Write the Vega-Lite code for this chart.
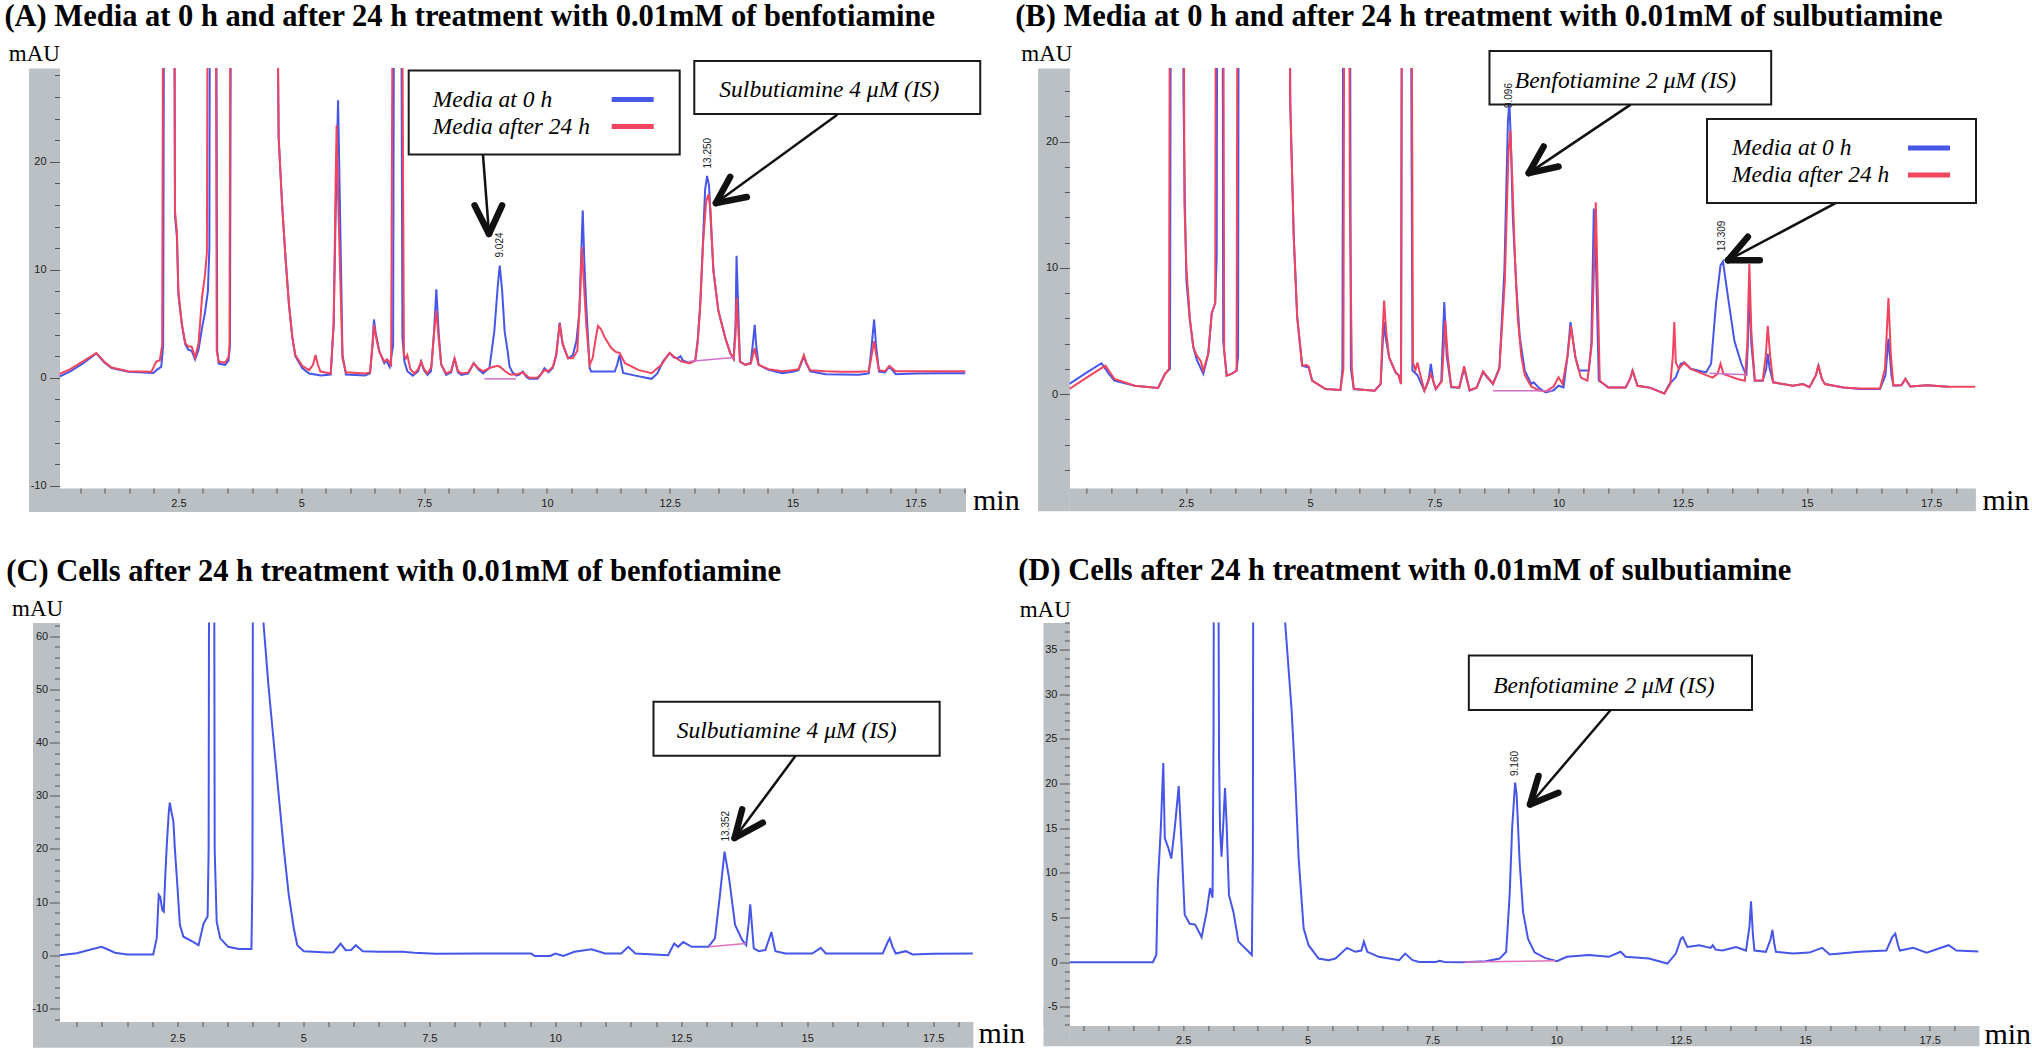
{
"$schema": "https://vega.github.io/schema/vega-lite/v6.json",
"background": "white",
"padding": {"left": 3.5, "top": 2, "right": 2, "bottom": 2},
"bounds": "flush",
"columns": 2,
"spacing": {"row": 134.5, "column": 95.9},
"resolve": {"scale": {"color": "independent"}, "legend": {"color": "independent"}},
"config": {
  "view": {"stroke": null},
  "font": "Liberation Sans",
  "title": {"font": "Liberation Serif", "fontSize": 30.5, "fontWeight": "bold", "color": "black", "anchor": "start", "frame": "group"},
  "axis": {"grid": false}
},
"datasets": {
"A0": [
{"s":"Media at 0 h","t":0.08,"v":0.1},{"s":"Media at 0 h","t":0.3,"v":0.6},{"s":"Media at 0 h","t":0.55,"v":1.3},{"s":"Media at 0 h","t":0.83,"v":2.25},{"s":"Media at 0 h","t":1.0,"v":1.4},{"s":"Media at 0 h","t":1.14,"v":0.9},{"s":"Media at 0 h","t":1.48,"v":0.55},{"s":"Media at 0 h","t":1.99,"v":0.45},{"s":"Media at 0 h","t":2.08,"v":0.8},{"s":"Media at 0 h","t":2.15,"v":1.0},{"s":"Media at 0 h","t":2.19,"v":3},{"s":"Media at 0 h","t":2.22,"v":60},{"s":"Media at 0 h","t":2.41,"v":60},{"s":"Media at 0 h","t":2.43,"v":15},{"s":"Media at 0 h","t":2.47,"v":13},{"s":"Media at 0 h","t":2.5,"v":7.7},{"s":"Media at 0 h","t":2.57,"v":4.9},{"s":"Media at 0 h","t":2.64,"v":3.1},{"s":"Media at 0 h","t":2.7,"v":2.6},{"s":"Media at 0 h","t":2.77,"v":2.5},{"s":"Media at 0 h","t":2.84,"v":1.7},{"s":"Media at 0 h","t":2.91,"v":2.6},{"s":"Media at 0 h","t":2.98,"v":4.6},{"s":"Media at 0 h","t":3.04,"v":6.0},{"s":"Media at 0 h","t":3.1,"v":8.0},{"s":"Media at 0 h","t":3.13,"v":12},{"s":"Media at 0 h","t":3.15,"v":60},{"s":"Media at 0 h","t":3.26,"v":60},{"s":"Media at 0 h","t":3.29,"v":2.5},{"s":"Media at 0 h","t":3.32,"v":1.3},{"s":"Media at 0 h","t":3.45,"v":1.2},{"s":"Media at 0 h","t":3.52,"v":1.6},{"s":"Media at 0 h","t":3.55,"v":3},{"s":"Media at 0 h","t":3.58,"v":60},{"s":"Media at 0 h","t":4.47,"v":60},{"s":"Media at 0 h","t":4.54,"v":22.3},{"s":"Media at 0 h","t":4.61,"v":16.1},{"s":"Media at 0 h","t":4.68,"v":11.1},{"s":"Media at 0 h","t":4.75,"v":6.8},{"s":"Media at 0 h","t":4.82,"v":3.7},{"s":"Media at 0 h","t":4.88,"v":2.0},{"s":"Media at 0 h","t":5.02,"v":0.9},{"s":"Media at 0 h","t":5.16,"v":0.4},{"s":"Media at 0 h","t":5.4,"v":0.2},{"s":"Media at 0 h","t":5.6,"v":0.3},{"s":"Media at 0 h","t":5.66,"v":5},{"s":"Media at 0 h","t":5.72,"v":20},{"s":"Media at 0 h","t":5.75,"v":25.7},{"s":"Media at 0 h","t":5.78,"v":18},{"s":"Media at 0 h","t":5.84,"v":2.1},{"s":"Media at 0 h","t":5.91,"v":0.3},{"s":"Media at 0 h","t":6.3,"v":0.2},{"s":"Media at 0 h","t":6.4,"v":0.4},{"s":"Media at 0 h","t":6.45,"v":3},{"s":"Media at 0 h","t":6.48,"v":5.4},{"s":"Media at 0 h","t":6.52,"v":4},{"s":"Media at 0 h","t":6.59,"v":2.45},{"s":"Media at 0 h","t":6.69,"v":1.35},{"s":"Media at 0 h","t":6.73,"v":1.6},{"s":"Media at 0 h","t":6.8,"v":1.0},{"s":"Media at 0 h","t":6.87,"v":3},{"s":"Media at 0 h","t":6.9,"v":60},{"s":"Media at 0 h","t":7.02,"v":60},{"s":"Media at 0 h","t":7.06,"v":3.7},{"s":"Media at 0 h","t":7.1,"v":1.5},{"s":"Media at 0 h","t":7.16,"v":0.6},{"s":"Media at 0 h","t":7.27,"v":0.2},{"s":"Media at 0 h","t":7.38,"v":0.6},{"s":"Media at 0 h","t":7.44,"v":1.5},{"s":"Media at 0 h","t":7.5,"v":0.7},{"s":"Media at 0 h","t":7.57,"v":0.27},{"s":"Media at 0 h","t":7.64,"v":0.6},{"s":"Media at 0 h","t":7.7,"v":4},{"s":"Media at 0 h","t":7.75,"v":8.2},{"s":"Media at 0 h","t":7.8,"v":4},{"s":"Media at 0 h","t":7.85,"v":1.2},{"s":"Media at 0 h","t":7.95,"v":0.27},{"s":"Media at 0 h","t":8.05,"v":0.5},{"s":"Media at 0 h","t":8.12,"v":1.8},{"s":"Media at 0 h","t":8.19,"v":0.5},{"s":"Media at 0 h","t":8.26,"v":0.27},{"s":"Media at 0 h","t":8.4,"v":0.4},{"s":"Media at 0 h","t":8.51,"v":1.35},{"s":"Media at 0 h","t":8.6,"v":0.8},{"s":"Media at 0 h","t":8.7,"v":0.4},{"s":"Media at 0 h","t":8.83,"v":0.9},{"s":"Media at 0 h","t":8.93,"v":4.3},{"s":"Media at 0 h","t":9.0,"v":8.5},{"s":"Media at 0 h","t":9.04,"v":10.4},{"s":"Media at 0 h","t":9.09,"v":8},{"s":"Media at 0 h","t":9.14,"v":4.3},{"s":"Media at 0 h","t":9.2,"v":2.5},{"s":"Media at 0 h","t":9.24,"v":1.04},{"s":"Media at 0 h","t":9.3,"v":0.5},{"s":"Media at 0 h","t":9.38,"v":0.2},{"s":"Media at 0 h","t":9.44,"v":0.3},{"s":"Media at 0 h","t":9.51,"v":0.58},{"s":"Media at 0 h","t":9.58,"v":0.1},{"s":"Media at 0 h","t":9.64,"v":-0.1},{"s":"Media at 0 h","t":9.81,"v":-0.1},{"s":"Media at 0 h","t":9.88,"v":0.3},{"s":"Media at 0 h","t":9.95,"v":0.89},{"s":"Media at 0 h","t":10.03,"v":0.5},{"s":"Media at 0 h","t":10.12,"v":0.9},{"s":"Media at 0 h","t":10.19,"v":2.1},{"s":"Media at 0 h","t":10.26,"v":5.1},{"s":"Media at 0 h","t":10.32,"v":3.1},{"s":"Media at 0 h","t":10.43,"v":1.8},{"s":"Media at 0 h","t":10.53,"v":2.1},{"s":"Media at 0 h","t":10.6,"v":3.4},{"s":"Media at 0 h","t":10.66,"v":6},{"s":"Media at 0 h","t":10.71,"v":13},{"s":"Media at 0 h","t":10.73,"v":15.5},{"s":"Media at 0 h","t":10.76,"v":11},{"s":"Media at 0 h","t":10.8,"v":6.8},{"s":"Media at 0 h","t":10.87,"v":0.9},{"s":"Media at 0 h","t":10.9,"v":0.58},{"s":"Media at 0 h","t":11.38,"v":0.58},{"s":"Media at 0 h","t":11.43,"v":1.2},{"s":"Media at 0 h","t":11.48,"v":2.1},{"s":"Media at 0 h","t":11.55,"v":0.45},{"s":"Media at 0 h","t":11.8,"v":0.2},{"s":"Media at 0 h","t":12.13,"v":-0.1},{"s":"Media at 0 h","t":12.25,"v":0.4},{"s":"Media at 0 h","t":12.36,"v":1.5},{"s":"Media at 0 h","t":12.5,"v":2.3},{"s":"Media at 0 h","t":12.58,"v":1.9},{"s":"Media at 0 h","t":12.66,"v":1.8},{"s":"Media at 0 h","t":12.72,"v":2.0},{"s":"Media at 0 h","t":12.77,"v":1.6},{"s":"Media at 0 h","t":12.9,"v":1.35},{"s":"Media at 0 h","t":13.02,"v":1.6},{"s":"Media at 0 h","t":13.07,"v":3.5},{"s":"Media at 0 h","t":13.12,"v":6.8},{"s":"Media at 0 h","t":13.18,"v":13},{"s":"Media at 0 h","t":13.22,"v":17.4},{"s":"Media at 0 h","t":13.26,"v":18.7},{"s":"Media at 0 h","t":13.3,"v":17.8},{"s":"Media at 0 h","t":13.34,"v":14},{"s":"Media at 0 h","t":13.39,"v":9.9},{"s":"Media at 0 h","t":13.49,"v":6.2},{"s":"Media at 0 h","t":13.63,"v":3.7},{"s":"Media at 0 h","t":13.73,"v":2.3},{"s":"Media at 0 h","t":13.8,"v":1.75},{"s":"Media at 0 h","t":13.84,"v":5},{"s":"Media at 0 h","t":13.86,"v":11.3},{"s":"Media at 0 h","t":13.89,"v":7},{"s":"Media at 0 h","t":13.93,"v":1.5},{"s":"Media at 0 h","t":14.04,"v":1.2},{"s":"Media at 0 h","t":14.15,"v":1.4},{"s":"Media at 0 h","t":14.2,"v":3.5},{"s":"Media at 0 h","t":14.23,"v":4.9},{"s":"Media at 0 h","t":14.26,"v":3},{"s":"Media at 0 h","t":14.31,"v":1.2},{"s":"Media at 0 h","t":14.51,"v":0.73},{"s":"Media at 0 h","t":14.79,"v":0.42},{"s":"Media at 0 h","t":15.0,"v":0.55},{"s":"Media at 0 h","t":15.12,"v":0.7},{"s":"Media at 0 h","t":15.19,"v":1.5},{"s":"Media at 0 h","t":15.23,"v":2.0},{"s":"Media at 0 h","t":15.28,"v":1.3},{"s":"Media at 0 h","t":15.36,"v":0.6},{"s":"Media at 0 h","t":15.67,"v":0.33},{"s":"Media at 0 h","t":16.0,"v":0.3},{"s":"Media at 0 h","t":16.35,"v":0.27},{"s":"Media at 0 h","t":16.55,"v":0.4},{"s":"Media at 0 h","t":16.6,"v":2.5},{"s":"Media at 0 h","t":16.66,"v":5.4},{"s":"Media at 0 h","t":16.7,"v":3.0},{"s":"Media at 0 h","t":16.76,"v":0.58},{"s":"Media at 0 h","t":16.88,"v":0.5},{"s":"Media at 0 h","t":16.97,"v":1.04},{"s":"Media at 0 h","t":17.1,"v":0.33},{"s":"Media at 0 h","t":17.5,"v":0.4},{"s":"Media at 0 h","t":18.0,"v":0.42},{"s":"Media at 0 h","t":18.52,"v":0.42}
],
"A24": [
{"s":"Media after 24 h","t":0.08,"v":0.35},{"s":"Media after 24 h","t":0.3,"v":0.8},{"s":"Media after 24 h","t":0.55,"v":1.5},{"s":"Media after 24 h","t":0.83,"v":2.3},{"s":"Media after 24 h","t":1.0,"v":1.45},{"s":"Media after 24 h","t":1.14,"v":0.95},{"s":"Media after 24 h","t":1.48,"v":0.6},{"s":"Media after 24 h","t":1.95,"v":0.55},{"s":"Media after 24 h","t":2.05,"v":1.5},{"s":"Media after 24 h","t":2.12,"v":1.6},{"s":"Media after 24 h","t":2.17,"v":3},{"s":"Media after 24 h","t":2.2,"v":60},{"s":"Media after 24 h","t":2.4,"v":60},{"s":"Media after 24 h","t":2.43,"v":15.5},{"s":"Media after 24 h","t":2.47,"v":13.5},{"s":"Media after 24 h","t":2.5,"v":8},{"s":"Media after 24 h","t":2.57,"v":5},{"s":"Media after 24 h","t":2.64,"v":3.2},{"s":"Media after 24 h","t":2.7,"v":2.9},{"s":"Media after 24 h","t":2.77,"v":2.9},{"s":"Media after 24 h","t":2.84,"v":1.9},{"s":"Media after 24 h","t":2.91,"v":3.2},{"s":"Media after 24 h","t":2.98,"v":7.4},{"s":"Media after 24 h","t":3.04,"v":9.5},{"s":"Media after 24 h","t":3.08,"v":11.6},{"s":"Media after 24 h","t":3.11,"v":60},{"s":"Media after 24 h","t":3.25,"v":60},{"s":"Media after 24 h","t":3.28,"v":2.5},{"s":"Media after 24 h","t":3.32,"v":1.5},{"s":"Media after 24 h","t":3.45,"v":1.4},{"s":"Media after 24 h","t":3.52,"v":1.9},{"s":"Media after 24 h","t":3.54,"v":3},{"s":"Media after 24 h","t":3.57,"v":60},{"s":"Media after 24 h","t":4.47,"v":60},{"s":"Media after 24 h","t":4.54,"v":22.3},{"s":"Media after 24 h","t":4.61,"v":16.1},{"s":"Media after 24 h","t":4.68,"v":11.1},{"s":"Media after 24 h","t":4.75,"v":6.8},{"s":"Media after 24 h","t":4.82,"v":3.7},{"s":"Media after 24 h","t":4.88,"v":2.1},{"s":"Media after 24 h","t":5.02,"v":1.1},{"s":"Media after 24 h","t":5.16,"v":0.7},{"s":"Media after 24 h","t":5.24,"v":1.2},{"s":"Media after 24 h","t":5.29,"v":2.1},{"s":"Media after 24 h","t":5.34,"v":1.2},{"s":"Media after 24 h","t":5.39,"v":0.58},{"s":"Media after 24 h","t":5.6,"v":0.4},{"s":"Media after 24 h","t":5.66,"v":5},{"s":"Media after 24 h","t":5.7,"v":18},{"s":"Media after 24 h","t":5.72,"v":23.4},{"s":"Media after 24 h","t":5.76,"v":15},{"s":"Media after 24 h","t":5.84,"v":1.8},{"s":"Media after 24 h","t":5.91,"v":0.5},{"s":"Media after 24 h","t":6.3,"v":0.4},{"s":"Media after 24 h","t":6.4,"v":0.5},{"s":"Media after 24 h","t":6.45,"v":3},{"s":"Media after 24 h","t":6.48,"v":4.9},{"s":"Media after 24 h","t":6.52,"v":3.8},{"s":"Media after 24 h","t":6.59,"v":2.4},{"s":"Media after 24 h","t":6.69,"v":1.5},{"s":"Media after 24 h","t":6.75,"v":1.7},{"s":"Media after 24 h","t":6.83,"v":1.2},{"s":"Media after 24 h","t":6.88,"v":60},{"s":"Media after 24 h","t":7.03,"v":60},{"s":"Media after 24 h","t":7.09,"v":2.1},{"s":"Media after 24 h","t":7.13,"v":1.8},{"s":"Media after 24 h","t":7.16,"v":2.1},{"s":"Media after 24 h","t":7.22,"v":0.8},{"s":"Media after 24 h","t":7.3,"v":0.4},{"s":"Media after 24 h","t":7.38,"v":0.8},{"s":"Media after 24 h","t":7.44,"v":1.5},{"s":"Media after 24 h","t":7.5,"v":0.8},{"s":"Media after 24 h","t":7.57,"v":0.4},{"s":"Media after 24 h","t":7.65,"v":1.0},{"s":"Media after 24 h","t":7.71,"v":4.5},{"s":"Media after 24 h","t":7.75,"v":6.2},{"s":"Media after 24 h","t":7.8,"v":3.5},{"s":"Media after 24 h","t":7.85,"v":1.2},{"s":"Media after 24 h","t":7.95,"v":0.4},{"s":"Media after 24 h","t":8.05,"v":0.6},{"s":"Media after 24 h","t":8.12,"v":1.8},{"s":"Media after 24 h","t":8.19,"v":0.6},{"s":"Media after 24 h","t":8.26,"v":0.4},{"s":"Media after 24 h","t":8.4,"v":0.5},{"s":"Media after 24 h","t":8.51,"v":1.35},{"s":"Media after 24 h","t":8.6,"v":0.9},{"s":"Media after 24 h","t":8.7,"v":0.6},{"s":"Media after 24 h","t":8.83,"v":0.9},{"s":"Media after 24 h","t":8.9,"v":1.0},{"s":"Media after 24 h","t":9.0,"v":1.1},{"s":"Media after 24 h","t":9.05,"v":1.0},{"s":"Media after 24 h","t":9.15,"v":0.6},{"s":"Media after 24 h","t":9.25,"v":0.3},{"s":"Media after 24 h","t":9.38,"v":0.3},{"s":"Media after 24 h","t":9.51,"v":0.5},{"s":"Media after 24 h","t":9.64,"v":0.0},{"s":"Media after 24 h","t":9.81,"v":0.0},{"s":"Media after 24 h","t":9.95,"v":0.7},{"s":"Media after 24 h","t":10.03,"v":0.6},{"s":"Media after 24 h","t":10.12,"v":1.0},{"s":"Media after 24 h","t":10.19,"v":2.1},{"s":"Media after 24 h","t":10.26,"v":5.0},{"s":"Media after 24 h","t":10.32,"v":3.2},{"s":"Media after 24 h","t":10.43,"v":1.8},{"s":"Media after 24 h","t":10.53,"v":1.8},{"s":"Media after 24 h","t":10.62,"v":2.5},{"s":"Media after 24 h","t":10.68,"v":8},{"s":"Media after 24 h","t":10.71,"v":12.1},{"s":"Media after 24 h","t":10.75,"v":9},{"s":"Media after 24 h","t":10.8,"v":5},{"s":"Media after 24 h","t":10.87,"v":1.2},{"s":"Media after 24 h","t":10.93,"v":1.8},{"s":"Media after 24 h","t":11.0,"v":3.8},{"s":"Media after 24 h","t":11.04,"v":4.8},{"s":"Media after 24 h","t":11.1,"v":4.5},{"s":"Media after 24 h","t":11.18,"v":3.7},{"s":"Media after 24 h","t":11.31,"v":2.75},{"s":"Media after 24 h","t":11.4,"v":2.4},{"s":"Media after 24 h","t":11.48,"v":2.3},{"s":"Media after 24 h","t":11.59,"v":1.35},{"s":"Media after 24 h","t":11.86,"v":0.73},{"s":"Media after 24 h","t":12.13,"v":0.42},{"s":"Media after 24 h","t":12.33,"v":1.2},{"s":"Media after 24 h","t":12.45,"v":2.0},{"s":"Media after 24 h","t":12.5,"v":2.3},{"s":"Media after 24 h","t":12.6,"v":1.9},{"s":"Media after 24 h","t":12.74,"v":1.5},{"s":"Media after 24 h","t":12.9,"v":1.35},{"s":"Media after 24 h","t":13.02,"v":1.6},{"s":"Media after 24 h","t":13.07,"v":3.3},{"s":"Media after 24 h","t":13.12,"v":6.5},{"s":"Media after 24 h","t":13.18,"v":12.5},{"s":"Media after 24 h","t":13.24,"v":16.3},{"s":"Media after 24 h","t":13.29,"v":17.0},{"s":"Media after 24 h","t":13.33,"v":15.5},{"s":"Media after 24 h","t":13.39,"v":9.9},{"s":"Media after 24 h","t":13.49,"v":6.2},{"s":"Media after 24 h","t":13.63,"v":3.7},{"s":"Media after 24 h","t":13.73,"v":2.3},{"s":"Media after 24 h","t":13.8,"v":1.75},{"s":"Media after 24 h","t":13.84,"v":4},{"s":"Media after 24 h","t":13.86,"v":7.4},{"s":"Media after 24 h","t":13.89,"v":5},{"s":"Media after 24 h","t":13.93,"v":1.5},{"s":"Media after 24 h","t":14.04,"v":1.2},{"s":"Media after 24 h","t":14.15,"v":1.3},{"s":"Media after 24 h","t":14.2,"v":2.2},{"s":"Media after 24 h","t":14.23,"v":2.75},{"s":"Media after 24 h","t":14.26,"v":2},{"s":"Media after 24 h","t":14.31,"v":1.2},{"s":"Media after 24 h","t":14.51,"v":0.8},{"s":"Media after 24 h","t":14.79,"v":0.6},{"s":"Media after 24 h","t":15.0,"v":0.7},{"s":"Media after 24 h","t":15.12,"v":0.8},{"s":"Media after 24 h","t":15.19,"v":1.6},{"s":"Media after 24 h","t":15.23,"v":2.1},{"s":"Media after 24 h","t":15.28,"v":1.4},{"s":"Media after 24 h","t":15.36,"v":0.7},{"s":"Media after 24 h","t":15.67,"v":0.6},{"s":"Media after 24 h","t":16.0,"v":0.55},{"s":"Media after 24 h","t":16.35,"v":0.55},{"s":"Media after 24 h","t":16.55,"v":0.6},{"s":"Media after 24 h","t":16.6,"v":1.8},{"s":"Media after 24 h","t":16.66,"v":3.4},{"s":"Media after 24 h","t":16.7,"v":2.2},{"s":"Media after 24 h","t":16.76,"v":0.7},{"s":"Media after 24 h","t":16.88,"v":0.6},{"s":"Media after 24 h","t":16.97,"v":1.1},{"s":"Media after 24 h","t":17.1,"v":0.6},{"s":"Media after 24 h","t":17.5,"v":0.6},{"s":"Media after 24 h","t":18.0,"v":0.6},{"s":"Media after 24 h","t":18.52,"v":0.6}
],
"B0": [
{"s":"Media at 0 h","t":0.155,"v":0.8},{"s":"Media at 0 h","t":0.5,"v":1.7},{"s":"Media at 0 h","t":0.8,"v":2.44},{"s":"Media at 0 h","t":0.95,"v":1.6},{"s":"Media at 0 h","t":1.06,"v":1.06},{"s":"Media at 0 h","t":1.47,"v":0.66},{"s":"Media at 0 h","t":1.94,"v":0.48},{"s":"Media at 0 h","t":2.08,"v":1.6},{"s":"Media at 0 h","t":2.18,"v":2.0},{"s":"Media at 0 h","t":2.21,"v":60},{"s":"Media at 0 h","t":2.43,"v":60},{"s":"Media at 0 h","t":2.45,"v":23.9},{"s":"Media at 0 h","t":2.48,"v":15},{"s":"Media at 0 h","t":2.51,"v":9.0},{"s":"Media at 0 h","t":2.58,"v":5.8},{"s":"Media at 0 h","t":2.65,"v":3.7},{"s":"Media at 0 h","t":2.72,"v":2.7},{"s":"Media at 0 h","t":2.85,"v":1.6},{"s":"Media at 0 h","t":2.95,"v":3.18},{"s":"Media at 0 h","t":3.02,"v":6.4},{"s":"Media at 0 h","t":3.09,"v":7.2},{"s":"Media at 0 h","t":3.12,"v":10.9},{"s":"Media at 0 h","t":3.14,"v":60},{"s":"Media at 0 h","t":3.23,"v":60},{"s":"Media at 0 h","t":3.25,"v":4.2},{"s":"Media at 0 h","t":3.32,"v":1.46},{"s":"Media at 0 h","t":3.42,"v":1.6},{"s":"Media at 0 h","t":3.52,"v":1.86},{"s":"Media at 0 h","t":3.55,"v":3},{"s":"Media at 0 h","t":3.57,"v":60},{"s":"Media at 0 h","t":4.56,"v":60},{"s":"Media at 0 h","t":4.6,"v":23.1},{"s":"Media at 0 h","t":4.67,"v":12.5},{"s":"Media at 0 h","t":4.74,"v":6.1},{"s":"Media at 0 h","t":4.84,"v":2.25},{"s":"Media at 0 h","t":4.97,"v":2.1},{"s":"Media at 0 h","t":5.04,"v":1.06},{"s":"Media at 0 h","t":5.31,"v":0.4},{"s":"Media at 0 h","t":5.61,"v":0.32},{"s":"Media at 0 h","t":5.65,"v":2},{"s":"Media at 0 h","t":5.68,"v":60},{"s":"Media at 0 h","t":5.79,"v":60},{"s":"Media at 0 h","t":5.82,"v":2},{"s":"Media at 0 h","t":5.88,"v":0.4},{"s":"Media at 0 h","t":6.3,"v":0.27},{"s":"Media at 0 h","t":6.42,"v":0.8},{"s":"Media at 0 h","t":6.46,"v":4},{"s":"Media at 0 h","t":6.49,"v":5.7},{"s":"Media at 0 h","t":6.52,"v":4.5},{"s":"Media at 0 h","t":6.59,"v":2.9},{"s":"Media at 0 h","t":6.72,"v":1.72},{"s":"Media at 0 h","t":6.78,"v":1.5},{"s":"Media at 0 h","t":6.83,"v":0.8},{"s":"Media at 0 h","t":6.86,"v":60},{"s":"Media at 0 h","t":7.0,"v":60},{"s":"Media at 0 h","t":7.06,"v":1.86},{"s":"Media at 0 h","t":7.16,"v":1.5},{"s":"Media at 0 h","t":7.3,"v":0.27},{"s":"Media at 0 h","t":7.38,"v":1.0},{"s":"Media at 0 h","t":7.43,"v":2.4},{"s":"Media at 0 h","t":7.48,"v":1.0},{"s":"Media at 0 h","t":7.53,"v":0.4},{"s":"Media at 0 h","t":7.64,"v":1.0},{"s":"Media at 0 h","t":7.7,"v":7.3},{"s":"Media at 0 h","t":7.75,"v":3},{"s":"Media at 0 h","t":7.84,"v":0.53},{"s":"Media at 0 h","t":8.0,"v":0.5},{"s":"Media at 0 h","t":8.1,"v":2.0},{"s":"Media at 0 h","t":8.21,"v":0.27},{"s":"Media at 0 h","t":8.35,"v":0.5},{"s":"Media at 0 h","t":8.48,"v":1.72},{"s":"Media at 0 h","t":8.68,"v":0.8},{"s":"Media at 0 h","t":8.81,"v":2.1},{"s":"Media at 0 h","t":8.91,"v":9.8},{"s":"Media at 0 h","t":8.98,"v":21.5},{"s":"Media at 0 h","t":9.01,"v":23.3},{"s":"Media at 0 h","t":9.04,"v":20},{"s":"Media at 0 h","t":9.08,"v":14},{"s":"Media at 0 h","t":9.15,"v":8.5},{"s":"Media at 0 h","t":9.22,"v":4.5},{"s":"Media at 0 h","t":9.32,"v":1.86},{"s":"Media at 0 h","t":9.45,"v":0.8},{"s":"Media at 0 h","t":9.5,"v":0.93},{"s":"Media at 0 h","t":9.6,"v":0.5},{"s":"Media at 0 h","t":9.74,"v":0.13},{"s":"Media at 0 h","t":9.9,"v":0.3},{"s":"Media at 0 h","t":10.0,"v":0.66},{"s":"Media at 0 h","t":10.1,"v":0.53},{"s":"Media at 0 h","t":10.18,"v":3},{"s":"Media at 0 h","t":10.24,"v":5.7},{"s":"Media at 0 h","t":10.3,"v":4},{"s":"Media at 0 h","t":10.34,"v":2.9},{"s":"Media at 0 h","t":10.41,"v":1.86},{"s":"Media at 0 h","t":10.61,"v":1.86},{"s":"Media at 0 h","t":10.66,"v":4},{"s":"Media at 0 h","t":10.71,"v":14.7},{"s":"Media at 0 h","t":10.75,"v":11},{"s":"Media at 0 h","t":10.81,"v":1.06},{"s":"Media at 0 h","t":10.91,"v":0.8},{"s":"Media at 0 h","t":11.0,"v":0.53},{"s":"Media at 0 h","t":11.35,"v":0.53},{"s":"Media at 0 h","t":11.44,"v":1.2},{"s":"Media at 0 h","t":11.49,"v":1.86},{"s":"Media at 0 h","t":11.59,"v":0.66},{"s":"Media at 0 h","t":11.82,"v":0.53},{"s":"Media at 0 h","t":12.13,"v":0.05},{"s":"Media at 0 h","t":12.23,"v":0.8},{"s":"Media at 0 h","t":12.36,"v":1.33},{"s":"Media at 0 h","t":12.46,"v":2.4},{"s":"Media at 0 h","t":12.53,"v":2.5},{"s":"Media at 0 h","t":12.66,"v":2.0},{"s":"Media at 0 h","t":12.97,"v":1.72},{"s":"Media at 0 h","t":13.07,"v":2.4},{"s":"Media at 0 h","t":13.17,"v":7.2},{"s":"Media at 0 h","t":13.26,"v":10.2},{"s":"Media at 0 h","t":13.31,"v":10.5},{"s":"Media at 0 h","t":13.41,"v":7.7},{"s":"Media at 0 h","t":13.54,"v":4.2},{"s":"Media at 0 h","t":13.68,"v":2.4},{"s":"Media at 0 h","t":13.78,"v":1.46},{"s":"Media at 0 h","t":13.81,"v":4},{"s":"Media at 0 h","t":13.84,"v":8.2},{"s":"Media at 0 h","t":13.88,"v":4},{"s":"Media at 0 h","t":13.95,"v":1.06},{"s":"Media at 0 h","t":14.11,"v":1.06},{"s":"Media at 0 h","t":14.18,"v":2},{"s":"Media at 0 h","t":14.21,"v":3.2},{"s":"Media at 0 h","t":14.25,"v":2},{"s":"Media at 0 h","t":14.32,"v":0.93},{"s":"Media at 0 h","t":14.72,"v":0.66},{"s":"Media at 0 h","t":14.92,"v":0.8},{"s":"Media at 0 h","t":15.05,"v":0.55},{"s":"Media at 0 h","t":15.18,"v":1.5},{"s":"Media at 0 h","t":15.23,"v":2.25},{"s":"Media at 0 h","t":15.3,"v":1.2},{"s":"Media at 0 h","t":15.36,"v":0.8},{"s":"Media at 0 h","t":15.73,"v":0.53},{"s":"Media at 0 h","t":16.07,"v":0.4},{"s":"Media at 0 h","t":16.47,"v":0.4},{"s":"Media at 0 h","t":16.58,"v":1.5},{"s":"Media at 0 h","t":16.64,"v":4.4},{"s":"Media at 0 h","t":16.7,"v":1.5},{"s":"Media at 0 h","t":16.74,"v":0.66},{"s":"Media at 0 h","t":16.9,"v":0.7},{"s":"Media at 0 h","t":16.98,"v":1.2},{"s":"Media at 0 h","t":17.08,"v":0.6},{"s":"Media at 0 h","t":17.42,"v":0.7},{"s":"Media at 0 h","t":17.85,"v":0.58}
],
"B24": [
{"s":"Media after 24 h","t":0.155,"v":0.4},{"s":"Media after 24 h","t":0.5,"v":1.3},{"s":"Media after 24 h","t":0.88,"v":2.25},{"s":"Media after 24 h","t":1.06,"v":1.2},{"s":"Media after 24 h","t":1.47,"v":0.66},{"s":"Media after 24 h","t":1.94,"v":0.48},{"s":"Media after 24 h","t":2.08,"v":1.6},{"s":"Media after 24 h","t":2.16,"v":2.0},{"s":"Media after 24 h","t":2.19,"v":60},{"s":"Media after 24 h","t":2.44,"v":60},{"s":"Media after 24 h","t":2.47,"v":15.1},{"s":"Media after 24 h","t":2.51,"v":10},{"s":"Media after 24 h","t":2.58,"v":6},{"s":"Media after 24 h","t":2.65,"v":3.7},{"s":"Media after 24 h","t":2.72,"v":3.05},{"s":"Media after 24 h","t":2.8,"v":2.6},{"s":"Media after 24 h","t":2.85,"v":1.86},{"s":"Media after 24 h","t":2.95,"v":3.2},{"s":"Media after 24 h","t":3.02,"v":6.4},{"s":"Media after 24 h","t":3.09,"v":7.2},{"s":"Media after 24 h","t":3.11,"v":60},{"s":"Media after 24 h","t":3.24,"v":60},{"s":"Media after 24 h","t":3.27,"v":3.5},{"s":"Media after 24 h","t":3.32,"v":1.46},{"s":"Media after 24 h","t":3.42,"v":1.6},{"s":"Media after 24 h","t":3.52,"v":1.86},{"s":"Media after 24 h","t":3.55,"v":60},{"s":"Media after 24 h","t":4.56,"v":60},{"s":"Media after 24 h","t":4.6,"v":23.1},{"s":"Media after 24 h","t":4.67,"v":12.5},{"s":"Media after 24 h","t":4.74,"v":6.1},{"s":"Media after 24 h","t":4.84,"v":2.25},{"s":"Media after 24 h","t":4.93,"v":2.3},{"s":"Media after 24 h","t":4.97,"v":2.2},{"s":"Media after 24 h","t":5.04,"v":1.06},{"s":"Media after 24 h","t":5.31,"v":0.4},{"s":"Media after 24 h","t":5.61,"v":0.32},{"s":"Media after 24 h","t":5.67,"v":2},{"s":"Media after 24 h","t":5.7,"v":60},{"s":"Media after 24 h","t":5.77,"v":60},{"s":"Media after 24 h","t":5.8,"v":15},{"s":"Media after 24 h","t":5.84,"v":2},{"s":"Media after 24 h","t":5.88,"v":0.4},{"s":"Media after 24 h","t":6.3,"v":0.27},{"s":"Media after 24 h","t":6.42,"v":0.8},{"s":"Media after 24 h","t":6.46,"v":5},{"s":"Media after 24 h","t":6.49,"v":7.4},{"s":"Media after 24 h","t":6.53,"v":5},{"s":"Media after 24 h","t":6.59,"v":2.9},{"s":"Media after 24 h","t":6.72,"v":1.72},{"s":"Media after 24 h","t":6.78,"v":1.5},{"s":"Media after 24 h","t":6.83,"v":0.8},{"s":"Media after 24 h","t":6.86,"v":60},{"s":"Media after 24 h","t":7.02,"v":60},{"s":"Media after 24 h","t":7.07,"v":2.5},{"s":"Media after 24 h","t":7.12,"v":1.9},{"s":"Media after 24 h","t":7.16,"v":2.5},{"s":"Media after 24 h","t":7.22,"v":1.5},{"s":"Media after 24 h","t":7.3,"v":0.27},{"s":"Media after 24 h","t":7.43,"v":1.6},{"s":"Media after 24 h","t":7.53,"v":0.4},{"s":"Media after 24 h","t":7.65,"v":1.0},{"s":"Media after 24 h","t":7.72,"v":5.8},{"s":"Media after 24 h","t":7.77,"v":3},{"s":"Media after 24 h","t":7.84,"v":0.6},{"s":"Media after 24 h","t":8.0,"v":0.5},{"s":"Media after 24 h","t":8.1,"v":2.2},{"s":"Media after 24 h","t":8.21,"v":0.3},{"s":"Media after 24 h","t":8.35,"v":0.5},{"s":"Media after 24 h","t":8.48,"v":1.8},{"s":"Media after 24 h","t":8.68,"v":0.8},{"s":"Media after 24 h","t":8.81,"v":2.0},{"s":"Media after 24 h","t":8.92,"v":9},{"s":"Media after 24 h","t":8.99,"v":19},{"s":"Media after 24 h","t":9.03,"v":20.9},{"s":"Media after 24 h","t":9.07,"v":17},{"s":"Media after 24 h","t":9.12,"v":11},{"s":"Media after 24 h","t":9.18,"v":6},{"s":"Media after 24 h","t":9.25,"v":3},{"s":"Media after 24 h","t":9.32,"v":1.5},{"s":"Media after 24 h","t":9.45,"v":0.6},{"s":"Media after 24 h","t":9.6,"v":0.3},{"s":"Media after 24 h","t":9.74,"v":0.2},{"s":"Media after 24 h","t":9.9,"v":0.6},{"s":"Media after 24 h","t":10.0,"v":1.33},{"s":"Media after 24 h","t":10.08,"v":0.8},{"s":"Media after 24 h","t":10.18,"v":3},{"s":"Media after 24 h","t":10.25,"v":5.4},{"s":"Media after 24 h","t":10.3,"v":4},{"s":"Media after 24 h","t":10.34,"v":2.9},{"s":"Media after 24 h","t":10.45,"v":1.3},{"s":"Media after 24 h","t":10.58,"v":1.06},{"s":"Media after 24 h","t":10.67,"v":4},{"s":"Media after 24 h","t":10.75,"v":15.2},{"s":"Media after 24 h","t":10.79,"v":8},{"s":"Media after 24 h","t":10.83,"v":1.06},{"s":"Media after 24 h","t":10.91,"v":0.8},{"s":"Media after 24 h","t":11.0,"v":0.53},{"s":"Media after 24 h","t":11.35,"v":0.53},{"s":"Media after 24 h","t":11.44,"v":1.2},{"s":"Media after 24 h","t":11.49,"v":1.86},{"s":"Media after 24 h","t":11.59,"v":0.66},{"s":"Media after 24 h","t":11.82,"v":0.53},{"s":"Media after 24 h","t":12.13,"v":0.05},{"s":"Media after 24 h","t":12.25,"v":0.8},{"s":"Media after 24 h","t":12.3,"v":3},{"s":"Media after 24 h","t":12.33,"v":5.7},{"s":"Media after 24 h","t":12.36,"v":2.5},{"s":"Media after 24 h","t":12.42,"v":2.0},{"s":"Media after 24 h","t":12.53,"v":2.5},{"s":"Media after 24 h","t":12.66,"v":2.0},{"s":"Media after 24 h","t":12.97,"v":1.5},{"s":"Media after 24 h","t":13.1,"v":1.3},{"s":"Media after 24 h","t":13.2,"v":1.6},{"s":"Media after 24 h","t":13.26,"v":2.4},{"s":"Media after 24 h","t":13.32,"v":1.6},{"s":"Media after 24 h","t":13.45,"v":1.4},{"s":"Media after 24 h","t":13.6,"v":1.2},{"s":"Media after 24 h","t":13.75,"v":1.06},{"s":"Media after 24 h","t":13.8,"v":4},{"s":"Media after 24 h","t":13.84,"v":10.3},{"s":"Media after 24 h","t":13.88,"v":5},{"s":"Media after 24 h","t":13.95,"v":1.06},{"s":"Media after 24 h","t":14.11,"v":1.1},{"s":"Media after 24 h","t":14.17,"v":3},{"s":"Media after 24 h","t":14.21,"v":5.4},{"s":"Media after 24 h","t":14.26,"v":3},{"s":"Media after 24 h","t":14.32,"v":0.93},{"s":"Media after 24 h","t":14.72,"v":0.66},{"s":"Media after 24 h","t":14.92,"v":0.8},{"s":"Media after 24 h","t":15.05,"v":0.55},{"s":"Media after 24 h","t":15.18,"v":1.5},{"s":"Media after 24 h","t":15.23,"v":2.3},{"s":"Media after 24 h","t":15.3,"v":1.2},{"s":"Media after 24 h","t":15.36,"v":0.8},{"s":"Media after 24 h","t":15.73,"v":0.53},{"s":"Media after 24 h","t":16.07,"v":0.45},{"s":"Media after 24 h","t":16.47,"v":0.45},{"s":"Media after 24 h","t":16.57,"v":2},{"s":"Media after 24 h","t":16.64,"v":7.6},{"s":"Media after 24 h","t":16.69,"v":3},{"s":"Media after 24 h","t":16.74,"v":0.7},{"s":"Media after 24 h","t":16.9,"v":0.7},{"s":"Media after 24 h","t":16.98,"v":1.2},{"s":"Media after 24 h","t":17.08,"v":0.6},{"s":"Media after 24 h","t":17.42,"v":0.7},{"s":"Media after 24 h","t":17.82,"v":0.58},{"s":"Media after 24 h","t":18.39,"v":0.58}
],
"C": [
{"t":0.16,"v":0},{"t":0.5,"v":0.4},{"t":0.99,"v":1.6},{"t":1.1,"v":1.2},{"t":1.26,"v":0.5},{"t":1.5,"v":0.15},{"t":2.02,"v":0.15},{"t":2.09,"v":3.2},{"t":2.13,"v":11.4},{"t":2.16,"v":11},{"t":2.2,"v":8.5},{"t":2.23,"v":8.2},{"t":2.26,"v":15},{"t":2.29,"v":20.8},{"t":2.33,"v":27},{"t":2.35,"v":28.7},{"t":2.38,"v":27},{"t":2.42,"v":25.2},{"t":2.45,"v":20},{"t":2.49,"v":14.5},{"t":2.55,"v":5.7},{"t":2.62,"v":3.5},{"t":2.82,"v":2.5},{"t":2.92,"v":1.9},{"t":3.02,"v":6.0},{"t":3.1,"v":7.3},{"t":3.12,"v":20},{"t":3.13,"v":80},{"t":3.23,"v":80},{"t":3.24,"v":20},{"t":3.28,"v":6.3},{"t":3.35,"v":3.2},{"t":3.51,"v":1.6},{"t":3.72,"v":1.2},{"t":3.97,"v":1.2},{"t":3.99,"v":15},{"t":4.0,"v":80},{"t":4.2,"v":80},{"t":4.21,"v":62.3},{"t":4.31,"v":50.4},{"t":4.41,"v":40.3},{"t":4.51,"v":30.2},{"t":4.61,"v":20.2},{"t":4.71,"v":11.4},{"t":4.81,"v":5.1},{"t":4.88,"v":1.9},{"t":5.01,"v":0.79},{"t":5.48,"v":0.53},{"t":5.6,"v":0.6},{"t":5.74,"v":2.2},{"t":5.84,"v":0.98},{"t":5.95,"v":1.0},{"t":6.04,"v":1.9},{"t":6.18,"v":0.79},{"t":6.5,"v":0.66},{"t":6.97,"v":0.7},{"t":7.2,"v":0.5},{"t":7.64,"v":0.28},{"t":8.5,"v":0.35},{"t":9.52,"v":0.35},{"t":9.59,"v":-0.1},{"t":9.9,"v":-0.1},{"t":10.0,"v":0.35},{"t":10.16,"v":-0.1},{"t":10.38,"v":0.66},{"t":10.72,"v":1.16},{"t":10.99,"v":0.35},{"t":11.31,"v":0.35},{"t":11.45,"v":1.6},{"t":11.59,"v":0.35},{"t":12.24,"v":0.03},{"t":12.36,"v":2.2},{"t":12.44,"v":1.6},{"t":12.54,"v":2.5},{"t":12.71,"v":1.6},{"t":13.04,"v":1.6},{"t":13.17,"v":3.2},{"t":13.27,"v":11.4},{"t":13.36,"v":19.5},{"t":13.45,"v":14.5},{"t":13.57,"v":5.7},{"t":13.71,"v":2.9},{"t":13.79,"v":1.9},{"t":13.84,"v":6},{"t":13.87,"v":9.6},{"t":13.91,"v":5},{"t":13.94,"v":1.3},{"t":14.04,"v":0.79},{"t":14.17,"v":1.0},{"t":14.26,"v":3.5},{"t":14.29,"v":4.4},{"t":14.33,"v":2.5},{"t":14.37,"v":0.79},{"t":14.57,"v":0.35},{"t":15.1,"v":0.35},{"t":15.27,"v":1.4},{"t":15.37,"v":0.35},{"t":16.5,"v":0.35},{"t":16.6,"v":2.5},{"t":16.64,"v":3.2},{"t":16.7,"v":1.5},{"t":16.76,"v":0.35},{"t":16.96,"v":0.79},{"t":17.09,"v":0.16},{"t":17.5,"v":0.3},{"t":18.29,"v":0.35}
],
"D": [
{"t":0.213,"v":0},{"t":1.89,"v":0},{"t":1.96,"v":0.8},{"t":1.99,"v":8.7},{"t":2.05,"v":15},{"t":2.1,"v":22.3},{"t":2.13,"v":13.9},{"t":2.2,"v":12.8},{"t":2.26,"v":11.6},{"t":2.33,"v":15.0},{"t":2.41,"v":19.7},{"t":2.47,"v":12.8},{"t":2.53,"v":5.3},{"t":2.63,"v":4.3},{"t":2.74,"v":4.2},{"t":2.87,"v":2.8},{"t":2.97,"v":5.6},{"t":3.04,"v":8.3},{"t":3.09,"v":7.2},{"t":3.11,"v":26},{"t":3.12,"v":60},{"t":3.2,"v":60},{"t":3.22,"v":23},{"t":3.24,"v":15},{"t":3.27,"v":11.8},{"t":3.31,"v":16},{"t":3.34,"v":19.5},{"t":3.37,"v":15.8},{"t":3.42,"v":7.5},{"t":3.51,"v":5.6},{"t":3.61,"v":2.3},{"t":3.81,"v":1.2},{"t":3.88,"v":0.8},{"t":3.9,"v":12},{"t":3.91,"v":60},{"t":4.5,"v":60},{"t":4.55,"v":37.9},{"t":4.68,"v":28.1},{"t":4.75,"v":20.6},{"t":4.82,"v":11.6},{"t":4.92,"v":3.8},{"t":5.02,"v":1.9},{"t":5.22,"v":0.4},{"t":5.42,"v":0.22},{"t":5.56,"v":0.4},{"t":5.79,"v":1.6},{"t":5.96,"v":1.16},{"t":6.08,"v":1.3},{"t":6.13,"v":2.3},{"t":6.2,"v":1.16},{"t":6.43,"v":0.6},{"t":6.84,"v":0.22},{"t":6.96,"v":0.96},{"t":7.11,"v":0.22},{"t":7.24,"v":0.03},{"t":7.58,"v":0.03},{"t":7.65,"v":0.15},{"t":7.75,"v":0.03},{"t":8.11,"v":0},{"t":8.58,"v":0.1},{"t":8.86,"v":0.4},{"t":8.99,"v":1.16},{"t":9.06,"v":7.5},{"t":9.11,"v":15},{"t":9.17,"v":20.1},{"t":9.2,"v":18.8},{"t":9.26,"v":11.3},{"t":9.33,"v":5.6},{"t":9.43,"v":2.6},{"t":9.56,"v":1.1},{"t":9.77,"v":0.48},{"t":10.01,"v":0.1},{"t":10.21,"v":0.6},{"t":10.65,"v":0.8},{"t":11.05,"v":0.6},{"t":11.29,"v":1.16},{"t":11.39,"v":0.6},{"t":11.86,"v":0.4},{"t":12.23,"v":-0.16},{"t":12.4,"v":0.96},{"t":12.5,"v":2.6},{"t":12.54,"v":2.8},{"t":12.63,"v":1.7},{"t":12.87,"v":1.9},{"t":13.1,"v":1.6},{"t":13.14,"v":1.9},{"t":13.2,"v":1.4},{"t":13.34,"v":1.3},{"t":13.61,"v":1.7},{"t":13.81,"v":1.3},{"t":13.88,"v":4},{"t":13.91,"v":6.8},{"t":13.95,"v":3},{"t":13.98,"v":1.3},{"t":14.21,"v":1.16},{"t":14.3,"v":2.5},{"t":14.34,"v":3.6},{"t":14.38,"v":2},{"t":14.41,"v":1.16},{"t":14.75,"v":0.96},{"t":15.08,"v":1.07},{"t":15.34,"v":1.6},{"t":15.49,"v":0.85},{"t":16.09,"v":1.16},{"t":16.63,"v":1.3},{"t":16.75,"v":2.8},{"t":16.81,"v":3.2},{"t":16.86,"v":2},{"t":16.9,"v":1.3},{"t":17.17,"v":1.6},{"t":17.44,"v":1.07},{"t":17.88,"v":1.9},{"t":18.04,"v":1.3},{"t":18.48,"v":1.2}
]
},
"concat": [
{
"width": 906, "height": 420,
"title": {"text": "(A) Media at 0 h and after 24 h treatment with 0.01mM of benfotiamine", "dx": -55.1, "offset": 9.6},
"resolve": {"axis": {"x": "independent", "y": "independent"}},
"encoding": {
  "x": {"field": "t", "type": "quantitative", "scale": {"domain": [0.08, 18.52], "nice": false, "zero": false}, "axis": null},
  "y": {"field": "v", "type": "quantitative", "scale": {"domain": [-10.21, 28.69], "nice": false, "zero": false}, "axis": null}
},
"layer": [
  {"data": {"name": "A0"}, "mark": {"type": "line", "clip": true, "strokeWidth": 2},
   "encoding": {
    "x": {"field": "t", "type": "quantitative", "scale": {"domain": [0.08, 18.52], "nice": false, "zero": false},
          "axis": {"orient": "bottom", "offset": 11.75, "domainWidth": 23.5, "domainColor": "#bac0c3", "domainCap": "butt", "ticks": false, "labels": false, "title": null, "zindex": 0}},
    "y": {"field": "v", "type": "quantitative", "scale": {"domain": [-10.21, 28.69], "nice": false, "zero": false},
          "axis": {"orient": "left", "offset": 15.5, "domainWidth": 31, "domainColor": "#bac0c3", "domainCap": "butt", "ticks": false, "labels": false, "title": null, "zindex": 0}},
    "color": {"field": "s", "type": "nominal", "scale": {"domain": ["Media at 0 h", "Media after 24 h"], "range": ["#4656e8", "#f0445f"]},
      "legend": {"orient": "none", "legendX": 349.2, "legendY": 2.6, "title": null, "direction": "vertical", "symbolType": "M-2,0H2", "symbolSize": 441, "symbolStrokeWidth": 5, "labelFont": "Liberation Serif", "labelFontStyle": "italic", "labelFontSize": 23.5, "labelColor": "black", "labelLimit": 400, "strokeColor": "#1a1a1a", "fillColor": "white", "padding": 16, "rowPadding": 2,
        "encode": {"legend": {"update": {"strokeWidth": {"value": 2}}}, "symbols": {"update": {"x": {"value": 208}}}, "labels": {"update": {"x": {"value": 8}, "align": {"value": "left"}}}}}}
   }},
  {"data": {"name": "A24"}, "mark": {"type": "line", "clip": true, "strokeWidth": 2},
   "encoding": {
    "color": {"field": "s", "type": "nominal", "scale": {"domain": ["Media at 0 h", "Media after 24 h"], "range": ["#4656e8", "#f0445f"]}}
   }},
  {"data": {"values": [{"t": 8.73, "v": -0.1, "t2": 9.37, "v2": -0.1}, {"t": 12.88, "v": 1.51, "t2": 13.8, "v2": 1.88}]},
   "mark": {"type": "rule", "color": "#d070c8", "strokeWidth": 1.5},
   "encoding": {
    "x": {"field": "t", "type": "quantitative", "scale": {"domain": [0.08, 18.52], "nice": false, "zero": false},
          "axis": {"orient": "bottom", "offset": 0, "domain": false, "values": [0.5,1,1.5,2,2.5,3,3.5,4,4.5,5,5.5,6,6.5,7,7.5,8,8.5,9,9.5,10,10.5,11,11.5,12,12.5,13,13.5,14,14.5,15,15.5,16,16.5,17,17.5,18,18.5], "tickSize": 5, "tickColor": "#555", "tickWidth": 1, "labelExpr": "datum.value % 2.5 === 0 ? '' + datum.value : ''", "labelBaseline": "middle", "labelPadding": 10.7, "labelFont": "Liberation Sans", "labelFontSize": 11, "labelColor": "#222", "labelFlush": false, "labelOverlap": false, "title": "min", "titleX": 913, "titleY": 21.7, "titleAlign": "left", "titleBaseline": "alphabetic", "titleFont": "Liberation Serif", "titleFontSize": 30, "titleFontWeight": "normal", "titleColor": "black", "zindex": 1}},
    "y": {"field": "v", "type": "quantitative", "scale": {"domain": [-10.21, 28.69], "nice": false, "zero": false},
          "axis": {"orient": "left", "offset": 0, "domain": false, "values": [-10.21,-10,-8,-6,-4,-2,0,2,4,6,8,10,12,14,16,18,20,22,24,26,28], "tickSize": {"expr": "datum.value < -10.2 ? 31 : (datum.value % 10 === 0 ? 10 : 5)"}, "tickWidth": {"expr": "datum.value < -10.2 ? 47 : 1"}, "tickColor": {"expr": "datum.value < -10.2 ? '#bac0c3' : '#555'"}, "labelExpr": "datum.value % 10 === 0 ? '' + datum.value : ''", "labelPadding": 3.4, "labelFont": "Liberation Sans", "labelFontSize": 11, "labelColor": "#222", "labelFlush": false, "labelOverlap": false, "title": "mAU", "titleX": -51.2, "titleY": -7.9, "titleAngle": 0, "titleAlign": "left", "titleBaseline": "alphabetic", "titleFont": "Liberation Serif", "titleFontSize": 23, "titleFontWeight": "normal", "titleColor": "black", "zindex": 1}},
    "x2": {"field": "t2"}, "y2": {"field": "v2"}
   }},
  {"data": {"values": [{"t": 13.0, "t2": 18.82, "v": 29.33, "v2": 24.42}]},
   "mark": {"type": "rect", "fill": "white", "stroke": "#1a1a1a", "strokeWidth": 2},
   "encoding": {"x2": {"field": "t2"}, "y2": {"field": "v2"}}},
  {"data": {"values": [{"t": 13.51, "v": 25.98, "label": "Sulbutiamine 4 μM (IS)"}]},
   "mark": {"type": "text", "align": "left", "baseline": "alphabetic", "font": "Liberation Serif", "fontStyle": "italic", "fontSize": 23.5, "color": "black"},
   "encoding": {"text": {"field": "label"}}},
  {"data": {"values": [{"t": 8.698, "v": 20.72, "t2": 8.822, "v2": 13.32}, {"t": 15.91, "v": 24.36, "t2": 13.44, "v2": 16.18}]},
   "mark": {"type": "rule", "color": "#111", "strokeWidth": 2.5},
   "encoding": {"x2": {"field": "t2"}, "y2": {"field": "v2"}}},
  {"data": {"values": [{"t": 8.822, "v": 13.32, "t2": 8.529, "v2": 15.97}, {"t": 8.822, "v": 13.32, "t2": 9.088, "v2": 15.97}, {"t": 13.44, "v": 16.18, "t2": 14.07, "v2": 16.74}, {"t": 13.44, "v": 16.18, "t2": 13.73, "v2": 18.61}]},
   "mark": {"type": "rule", "color": "#111", "strokeWidth": 6.5, "strokeCap": "round"},
   "encoding": {"x2": {"field": "t2"}, "y2": {"field": "v2"}}},
  {"data": {"values": [{"t": 9.04, "v": 12.3, "label": "9.024"}, {"t": 13.28, "v": 20.8, "label": "13.250"}]},
   "mark": {"type": "text", "angle": 270, "font": "Liberation Sans", "fontSize": 10, "color": "#222", "align": "center", "baseline": "middle"},
   "encoding": {"text": {"field": "label"}}}
]
},
{
"width": 906, "height": 420,
"title": {"text": "(B) Media at 0 h and after 24 h treatment with 0.01mM of sulbutiamine", "dx": -54.2, "offset": 9.6},
"resolve": {"axis": {"x": "independent", "y": "independent"}},
"encoding": {
  "x": {"field": "t", "type": "quantitative", "scale": {"domain": [0.155, 18.39], "nice": false, "zero": false}, "axis": null},
  "y": {"field": "v", "type": "quantitative", "scale": {"domain": [-7.44, 25.83], "nice": false, "zero": false}, "axis": null}
},
"layer": [
  {"data": {"name": "B0"}, "mark": {"type": "line", "clip": true, "strokeWidth": 2},
   "encoding": {
    "x": {"field": "t", "type": "quantitative", "scale": {"domain": [0.155, 18.39], "nice": false, "zero": false},
          "axis": {"orient": "bottom", "offset": 11.4, "domainWidth": 22.8, "domainColor": "#bac0c3", "domainCap": "butt", "ticks": false, "labels": false, "title": null, "zindex": 0}},
    "y": {"field": "v", "type": "quantitative", "scale": {"domain": [-7.44, 25.83], "nice": false, "zero": false},
          "axis": {"orient": "left", "offset": 15.9, "domainWidth": 31.8, "domainColor": "#bac0c3", "domainCap": "butt", "ticks": false, "labels": false, "title": null, "zindex": 0}},
    "color": {"field": "s", "type": "nominal", "scale": {"domain": ["Media at 0 h", "Media after 24 h"], "range": ["#4656e8", "#f0445f"]},
      "legend": {"orient": "none", "legendX": 637.6, "legendY": 51, "title": null, "direction": "vertical", "symbolType": "M-2,0H2", "symbolSize": 441, "symbolStrokeWidth": 5, "labelFont": "Liberation Serif", "labelFontStyle": "italic", "labelFontSize": 23.5, "labelColor": "black", "labelLimit": 400, "strokeColor": "#1a1a1a", "fillColor": "white", "padding": 16, "rowPadding": 2,
        "encode": {"legend": {"update": {"strokeWidth": {"value": 2}}}, "symbols": {"update": {"x": {"value": 206}}}, "labels": {"update": {"x": {"value": 9}, "align": {"value": "left"}}}}}}
   }},
  {"data": {"name": "B24"}, "mark": {"type": "line", "clip": true, "strokeWidth": 2},
   "encoding": {
    "color": {"field": "s", "type": "nominal", "scale": {"domain": ["Media at 0 h", "Media after 24 h"], "range": ["#4656e8", "#f0445f"]}}
   }},
  {"data": {"values": [{"t": 8.68, "v": 0.27, "t2": 9.87, "v2": 0.27}, {"t": 13.04, "v": 1.64, "t2": 13.81, "v2": 1.54}]},
   "mark": {"type": "rule", "color": "#d070c8", "strokeWidth": 1.5},
   "encoding": {
    "x": {"field": "t", "type": "quantitative", "scale": {"domain": [0.155, 18.39], "nice": false, "zero": false},
          "axis": {"orient": "bottom", "offset": 0, "domain": false, "values": [0.5,1,1.5,2,2.5,3,3.5,4,4.5,5,5.5,6,6.5,7,7.5,8,8.5,9,9.5,10,10.5,11,11.5,12,12.5,13,13.5,14,14.5,15,15.5,16,16.5,17,17.5,18], "tickSize": 5, "tickColor": "#555", "tickWidth": 1, "labelExpr": "datum.value % 2.5 === 0 ? '' + datum.value : ''", "labelBaseline": "middle", "labelPadding": 10.7, "labelFont": "Liberation Sans", "labelFontSize": 11, "labelColor": "#222", "labelFlush": false, "labelOverlap": false, "title": "min", "titleX": 912.7, "titleY": 21.7, "titleAlign": "left", "titleBaseline": "alphabetic", "titleFont": "Liberation Serif", "titleFontSize": 30, "titleFontWeight": "normal", "titleColor": "black", "zindex": 1}},
    "y": {"field": "v", "type": "quantitative", "scale": {"domain": [-7.44, 25.83], "nice": false, "zero": false},
          "axis": {"orient": "left", "offset": 0, "domain": false, "values": [-7.44,-6,-4,-2,0,2,4,6,8,10,12,14,16,18,20,22,24], "tickSize": {"expr": "datum.value < -7.4 ? 31.8 : (datum.value % 10 === 0 ? 10 : 5)"}, "tickWidth": {"expr": "datum.value < -7.4 ? 45.6 : 1"}, "tickColor": {"expr": "datum.value < -7.4 ? '#bac0c3' : '#555'"}, "labelExpr": "datum.value % 10 === 0 ? '' + datum.value : ''", "labelPadding": 1.7, "labelFont": "Liberation Sans", "labelFontSize": 11, "labelColor": "#222", "labelFlush": false, "labelOverlap": false, "title": "mAU", "titleX": -48.6, "titleY": -7.9, "titleAngle": 0, "titleAlign": "left", "titleBaseline": "alphabetic", "titleFont": "Liberation Serif", "titleFontSize": 23, "titleFontWeight": "normal", "titleColor": "black", "zindex": 1}},
    "x2": {"field": "t2"}, "y2": {"field": "v2"}
   }},
  {"data": {"values": [{"t": 8.61, "t2": 14.28, "v": 27.17, "v2": 22.93}]},
   "mark": {"type": "rect", "fill": "white", "stroke": "#1a1a1a", "strokeWidth": 2},
   "encoding": {"x2": {"field": "t2"}, "y2": {"field": "v2"}}},
  {"data": {"values": [{"t": 9.12, "v": 24.28, "label": "Benfotiamine 2 μM (IS)"}]},
   "mark": {"type": "text", "align": "left", "baseline": "alphabetic", "font": "Liberation Serif", "fontStyle": "italic", "fontSize": 23.5, "color": "black"},
   "encoding": {"text": {"field": "label"}}},
  {"data": {"values": [{"t": 11.45, "v": 22.93, "t2": 9.40, "v2": 17.50}, {"t": 15.66, "v": 15.3, "t2": 13.41, "v2": 10.60}]},
   "mark": {"type": "rule", "color": "#111", "strokeWidth": 2.5},
   "encoding": {"x2": {"field": "t2"}, "y2": {"field": "v2"}}},
  {"data": {"values": [{"t": 9.40, "v": 17.50, "t2": 10.0, "v2": 18.03}, {"t": 9.40, "v": 17.50, "t2": 9.70, "v2": 19.61}, {"t": 13.41, "v": 10.60, "t2": 14.05, "v2": 10.60}, {"t": 13.41, "v": 10.60, "t2": 13.81, "v2": 12.46}]},
   "mark": {"type": "rule", "color": "#111", "strokeWidth": 6.5, "strokeCap": "round"},
   "encoding": {"x2": {"field": "t2"}, "y2": {"field": "v2"}}},
  {"data": {"values": [{"t": 9.0, "v": 23.65, "label": "9.096"}, {"t": 13.29, "v": 12.53, "label": "13.309"}]},
   "mark": {"type": "text", "angle": 270, "font": "Liberation Sans", "fontSize": 10, "color": "#222", "align": "center", "baseline": "middle"},
   "encoding": {"text": {"field": "label"}}}
]
},
{
"width": 913.4, "height": 399,
"title": {"text": "(C) Cells after 24 h treatment with 0.01mM of benfotiamine", "dx": -53.2, "offset": 9.9},
"resolve": {"axis": {"x": "independent", "y": "independent"}},
"encoding": {
  "x": {"field": "t", "type": "quantitative", "scale": {"domain": [0.16, 18.29], "nice": false, "zero": false}, "axis": null},
  "y": {"field": "v", "type": "quantitative", "scale": {"domain": [-12.43, 62.55], "nice": false, "zero": false}, "axis": null}
},
"layer": [
  {"data": {"name": "C"}, "mark": {"type": "line", "clip": true, "strokeWidth": 2, "color": "#4656e8"},
   "encoding": {
    "x": {"field": "t", "type": "quantitative", "scale": {"domain": [0.16, 18.29], "nice": false, "zero": false},
          "axis": {"orient": "bottom", "offset": 12.9, "domainWidth": 25.8, "domainColor": "#bac0c3", "domainCap": "butt", "ticks": false, "labels": false, "title": null, "zindex": 0}},
    "y": {"field": "v", "type": "quantitative", "scale": {"domain": [-12.43, 62.55], "nice": false, "zero": false},
          "axis": {"orient": "left", "offset": 13.5, "domainWidth": 27, "domainColor": "#bac0c3", "domainCap": "butt", "ticks": false, "labels": false, "title": null, "zindex": 0}}
   }},
  {"data": {"values": [{"t": 13.05, "v": 1.6, "t2": 13.78, "v2": 2.24}]},
   "mark": {"type": "rule", "color": "#e070b8", "strokeWidth": 1.5},
   "encoding": {
    "x": {"field": "t", "type": "quantitative", "scale": {"domain": [0.16, 18.29], "nice": false, "zero": false},
          "axis": {"orient": "bottom", "offset": 0, "domain": false, "values": [0.5,1,1.5,2,2.5,3,3.5,4,4.5,5,5.5,6,6.5,7,7.5,8,8.5,9,9.5,10,10.5,11,11.5,12,12.5,13,13.5,14,14.5,15,15.5,16,16.5,17,17.5,18], "tickSize": 5, "tickColor": "#555", "tickWidth": 1, "labelExpr": "datum.value % 2.5 === 0 ? '' + datum.value : ''", "labelBaseline": "middle", "labelPadding": 12.4, "labelFont": "Liberation Sans", "labelFontSize": 11, "labelColor": "#222", "labelFlush": false, "labelOverlap": false, "title": "min", "titleX": 918.4, "titleY": 20.8, "titleAlign": "left", "titleBaseline": "alphabetic", "titleFont": "Liberation Serif", "titleFontSize": 30, "titleFontWeight": "normal", "titleColor": "black", "zindex": 1}},
    "y": {"field": "v", "type": "quantitative", "scale": {"domain": [-12.43, 62.55], "nice": false, "zero": false},
          "axis": {"orient": "left", "offset": 0, "domain": false, "values": [-12.43,-12,-10,-8,-6,-4,-2,0,2,4,6,8,10,12,14,16,18,20,22,24,26,28,30,32,34,36,38,40,42,44,46,48,50,52,54,56,58,60,62], "tickSize": {"expr": "datum.value < -12.4 ? 27 : (datum.value % 10 === 0 ? 10 : 5)"}, "tickWidth": {"expr": "datum.value < -12.4 ? 51.6 : 1"}, "tickColor": {"expr": "datum.value < -12.4 ? '#bac0c3' : '#555'"}, "labelExpr": "datum.value % 10 === 0 ? '' + datum.value : ''", "labelPadding": 1.8, "labelFont": "Liberation Sans", "labelFontSize": 11, "labelColor": "#222", "labelFlush": false, "labelOverlap": false, "title": "mAU", "titleX": -47.9, "titleY": -7.3, "titleAngle": 0, "titleAlign": "left", "titleBaseline": "alphabetic", "titleFont": "Liberation Serif", "titleFontSize": 23, "titleFontWeight": "normal", "titleColor": "black", "zindex": 1}},
    "x2": {"field": "t2"}, "y2": {"field": "v2"}
   }},
  {"data": {"values": [{"t": 11.95, "t2": 17.63, "v": 47.68, "v2": 37.49}]},
   "mark": {"type": "rect", "fill": "white", "stroke": "#1a1a1a", "strokeWidth": 2},
   "encoding": {"x2": {"field": "t2"}, "y2": {"field": "v2"}}},
  {"data": {"values": [{"t": 12.41, "v": 40.82, "label": "Sulbutiamine 4 μM (IS)"}]},
   "mark": {"type": "text", "align": "left", "baseline": "alphabetic", "font": "Liberation Serif", "fontStyle": "italic", "fontSize": 23.5, "color": "black"},
   "encoding": {"text": {"field": "label"}}},
  {"data": {"values": [{"t": 14.77, "v": 37.49, "t2": 13.56, "v2": 22.05}]},
   "mark": {"type": "rule", "color": "#111", "strokeWidth": 2.5},
   "encoding": {"x2": {"field": "t2"}, "y2": {"field": "v2"}}},
  {"data": {"values": [{"t": 13.56, "v": 22.05, "t2": 14.12, "v2": 24.93}, {"t": 13.56, "v": 22.05, "t2": 13.71, "v2": 27.45}]},
   "mark": {"type": "rule", "color": "#111", "strokeWidth": 6.5, "strokeCap": "round"},
   "encoding": {"x2": {"field": "t2"}, "y2": {"field": "v2"}}},
  {"data": {"values": [{"t": 13.38, "v": 24.27, "label": "13.352"}]},
   "mark": {"type": "text", "angle": 270, "font": "Liberation Sans", "fontSize": 10, "color": "#222", "align": "center", "baseline": "middle"},
   "encoding": {"text": {"field": "label"}}}
]
},
{
"width": 909.5, "height": 403,
"title": {"text": "(D) Cells after 24 h treatment with 0.01mM of sulbutiamine", "dx": -51.2, "offset": 12.9},
"resolve": {"axis": {"x": "independent", "y": "independent"}},
"encoding": {
  "x": {"field": "t", "type": "quantitative", "scale": {"domain": [0.213, 18.49], "nice": false, "zero": false}, "axis": null},
  "y": {"field": "v", "type": "quantitative", "scale": {"domain": [-7.09, 38.02], "nice": false, "zero": false}, "axis": null}
},
"layer": [
  {"data": {"name": "D"}, "mark": {"type": "line", "clip": true, "strokeWidth": 2, "color": "#4656e8"},
   "encoding": {
    "x": {"field": "t", "type": "quantitative", "scale": {"domain": [0.213, 18.49], "nice": false, "zero": false},
          "axis": {"orient": "bottom", "offset": 10.1, "domainWidth": 20.2, "domainColor": "#bac0c3", "domainCap": "butt", "ticks": false, "labels": false, "title": null, "zindex": 0}},
    "y": {"field": "v", "type": "quantitative", "scale": {"domain": [-7.09, 38.02], "nice": false, "zero": false},
          "axis": {"orient": "left", "offset": 13.2, "domainWidth": 26.4, "domainColor": "#bac0c3", "domainCap": "butt", "ticks": false, "labels": false, "title": null, "zindex": 0}}
   }},
  {"data": {"values": [{"t": 8.15, "v": 0.03, "t2": 9.98, "v2": 0.15}]},
   "mark": {"type": "rule", "color": "#e070b8", "strokeWidth": 1.5},
   "encoding": {
    "x": {"field": "t", "type": "quantitative", "scale": {"domain": [0.213, 18.49], "nice": false, "zero": false},
          "axis": {"orient": "bottom", "offset": 0, "domain": false, "values": [0.5,1,1.5,2,2.5,3,3.5,4,4.5,5,5.5,6,6.5,7,7.5,8,8.5,9,9.5,10,10.5,11,11.5,12,12.5,13,13.5,14,14.5,15,15.5,16,16.5,17,17.5,18], "tickSize": 5, "tickColor": "#555", "tickWidth": 1, "labelExpr": "datum.value % 2.5 === 0 ? '' + datum.value : ''", "labelBaseline": "middle", "labelPadding": 10.1, "labelFont": "Liberation Sans", "labelFontSize": 11, "labelColor": "#222", "labelFlush": false, "labelOverlap": false, "title": "min", "titleX": 914.5, "titleY": 18.4, "titleAlign": "left", "titleBaseline": "alphabetic", "titleFont": "Liberation Serif", "titleFontSize": 30, "titleFontWeight": "normal", "titleColor": "black", "zindex": 1}},
    "y": {"field": "v", "type": "quantitative", "scale": {"domain": [-7.09, 38.02], "nice": false, "zero": false},
          "axis": {"orient": "left", "offset": 0, "domain": false, "values": [-7.09,-7,-6,-5,-4,-3,-2,-1,0,1,2,3,4,5,6,7,8,9,10,11,12,13,14,15,16,17,18,19,20,21,22,23,24,25,26,27,28,29,30,31,32,33,34,35,36,37,38], "tickSize": {"expr": "datum.value < -7.05 ? 26.4 : (datum.value % 5 === 0 ? 10 : 5)"}, "tickWidth": {"expr": "datum.value < -7.05 ? 40.4 : 1"}, "tickColor": {"expr": "datum.value < -7.05 ? '#bac0c3' : '#555'"}, "labelExpr": "datum.value % 5 === 0 ? '' + datum.value : ''", "labelPadding": 2.4, "labelFont": "Liberation Sans", "labelFontSize": 11, "labelColor": "#222", "labelFlush": false, "labelOverlap": false, "title": "mAU", "titleX": -50.2, "titleY": -5.6, "titleAngle": 0, "titleAlign": "left", "titleBaseline": "alphabetic", "titleFont": "Liberation Serif", "titleFontSize": 23, "titleFontWeight": "normal", "titleColor": "black", "zindex": 1}},
    "x2": {"field": "t2"}, "y2": {"field": "v2"}
   }},
  {"data": {"values": [{"t": 8.24, "t2": 13.93, "v": 34.33, "v2": 28.22}]},
   "mark": {"type": "rect", "fill": "white", "stroke": "#1a1a1a", "strokeWidth": 2},
   "encoding": {"x2": {"field": "t2"}, "y2": {"field": "v2"}}},
  {"data": {"values": [{"t": 8.73, "v": 30.13, "label": "Benfotiamine 2 μM (IS)"}]},
   "mark": {"type": "text", "align": "left", "baseline": "alphabetic", "font": "Liberation Serif", "fontStyle": "italic", "fontSize": 23.5, "color": "black"},
   "encoding": {"text": {"field": "label"}}},
  {"data": {"values": [{"t": 11.09, "v": 28.22, "t2": 9.47, "v2": 17.65}]},
   "mark": {"type": "rule", "color": "#111", "strokeWidth": 2.5},
   "encoding": {"x2": {"field": "t2"}, "y2": {"field": "v2"}}},
  {"data": {"values": [{"t": 9.47, "v": 17.65, "t2": 10.04, "v2": 18.96}, {"t": 9.47, "v": 17.65, "t2": 9.64, "v2": 20.84}]},
   "mark": {"type": "rule", "color": "#111", "strokeWidth": 6.5, "strokeCap": "round"},
   "encoding": {"x2": {"field": "t2"}, "y2": {"field": "v2"}}},
  {"data": {"values": [{"t": 9.16, "v": 22.24, "label": "9.160"}]},
   "mark": {"type": "text", "angle": 270, "font": "Liberation Sans", "fontSize": 10, "color": "#222", "align": "center", "baseline": "middle"},
   "encoding": {"text": {"field": "label"}}}
]
}
]
}
